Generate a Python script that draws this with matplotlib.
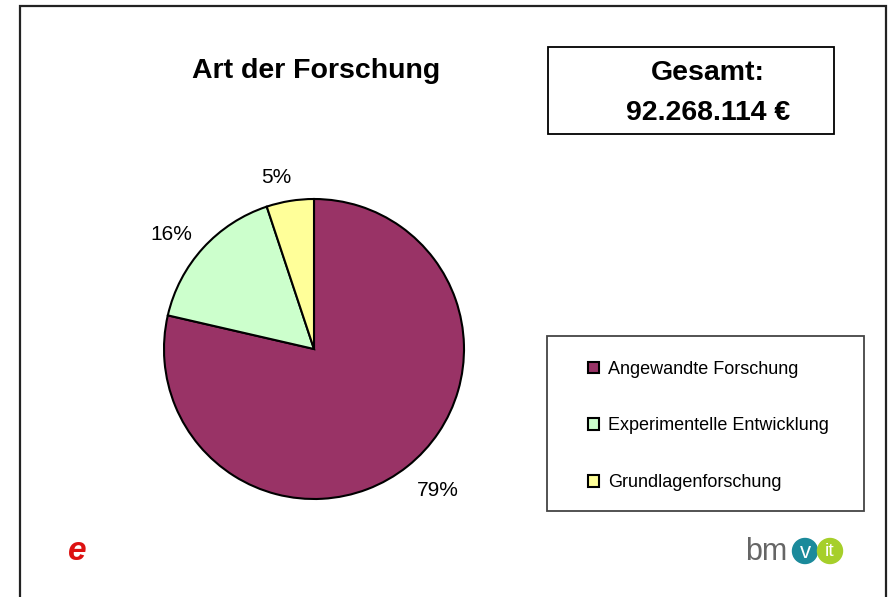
import matplotlib.pyplot as plt
from matplotlib.patches import Rectangle, Circle

plt.rcParams['font.family'] = ['Liberation Sans', 'DejaVu Sans']

# Daten
kategorien = ["Angewandte Forschung", "Experimentelle Entwicklung", "Grundlagenforschung"]
anteile = [78.6, 16.3, 5.1]
farben = ["#993366", "#CCFFCC", "#FFFF99"]
titel = "Art der Forschung"
gesamt = "Gesamt:\n92.268.114 €"

W, H = 891, 597
fig = plt.figure(figsize=(W / 100, H / 100), dpi=100)


def fx(px):
    return px / W


def fy(py):
    return 1 - py / H


# Rahmen um die Folie (unten offen)
fig.patches.append(Rectangle((fx(20), -0.05), fx(886) - fx(20), fy(6) + 0.05,
                             transform=fig.transFigure, fill=False,
                             edgecolor="#222222", linewidth=1.6))

# Kreisdiagramm
cx, cy, r = 314, 349, 150
ax = fig.add_axes([fx(cx - r), fy(cy + r), 2 * r / W, 2 * r / H])
beschriftung = [f"{round(a)}%" for a in anteile]
wedges, texts = ax.pie(anteile, colors=farben, labels=beschriftung,
                       startangle=90, counterclock=False, labeldistance=1.2,
                       wedgeprops=dict(edgecolor="black", linewidth=1.5),
                       textprops=dict(fontsize=15))
for t in texts:
    t.set_ha("center")
    t.set_va("center")
# kleine Korrektur der Beschriftungslage wie im Original
verschiebung = [(0.077, -0.007), (-0.067, -0.047), (-0.057, -0.043)]
for t, (dx, dy) in zip(texts, verschiebung):
    x, y = t.get_position()
    t.set_position((x + dx, y + dy))
ax.set_xlim(-1, 1)
ax.set_ylim(-1, 1)
ax.set_aspect("equal")

# Titel
fig.text(fx(316), fy(71), titel, fontsize=20.5, fontweight="bold",
         ha="center", va="center")

# Gesamt-Box
fig.patches.append(Rectangle((fx(548), fy(134)), fx(834) - fx(548), fy(47) - fy(134),
                             transform=fig.transFigure, fill=False,
                             edgecolor="black", linewidth=1.3))
fig.text(fx(708), fy(93), gesamt, fontsize=20.5, fontweight="bold",
         ha="center", va="center", linespacing=1.65, multialignment="center")

# Legende
fig.patches.append(Rectangle((fx(547), fy(511)), fx(864) - fx(547), fy(336) - fy(511),
                             transform=fig.transFigure, fill=False,
                             edgecolor="#444444", linewidth=1.3))
fig.legend(wedges, kategorien, loc="center left",
           bbox_to_anchor=(fx(588), fy(426)), frameon=False,
           fontsize=13, labelspacing=2.2, handlelength=0.6, handleheight=0.6,
           handletextpad=0.5, borderpad=0, borderaxespad=0)

# Logos (vereinfacht)
fig.text(fx(77), fy(551), "e", fontsize=24, color="#dd1111", fontweight="bold",
         style="italic", ha="center", va="center")
fig.text(fx(766), fy(552), "bm", fontsize=22, color="#666666",
         ha="center", va="center")
ax_logo = fig.add_axes([fx(790), fy(566), fx(850) - fx(790), fy(536) - fy(566)])
ax_logo.set_xlim(0, 60)
ax_logo.set_ylim(0, 30)
ax_logo.set_aspect("equal")
ax_logo.axis("off")
ax_logo.add_patch(Circle((15, 15), 12.5, color="#1b8a9b"))
ax_logo.add_patch(Circle((40, 15), 12.5, color="#a6cf2a"))
ax_logo.text(15, 14, "v", color="white", fontsize=16, ha="center", va="center")
ax_logo.text(40, 15, "it", color="white", fontsize=14, ha="center", va="center")

fig.savefig("out.png", dpi=100)
